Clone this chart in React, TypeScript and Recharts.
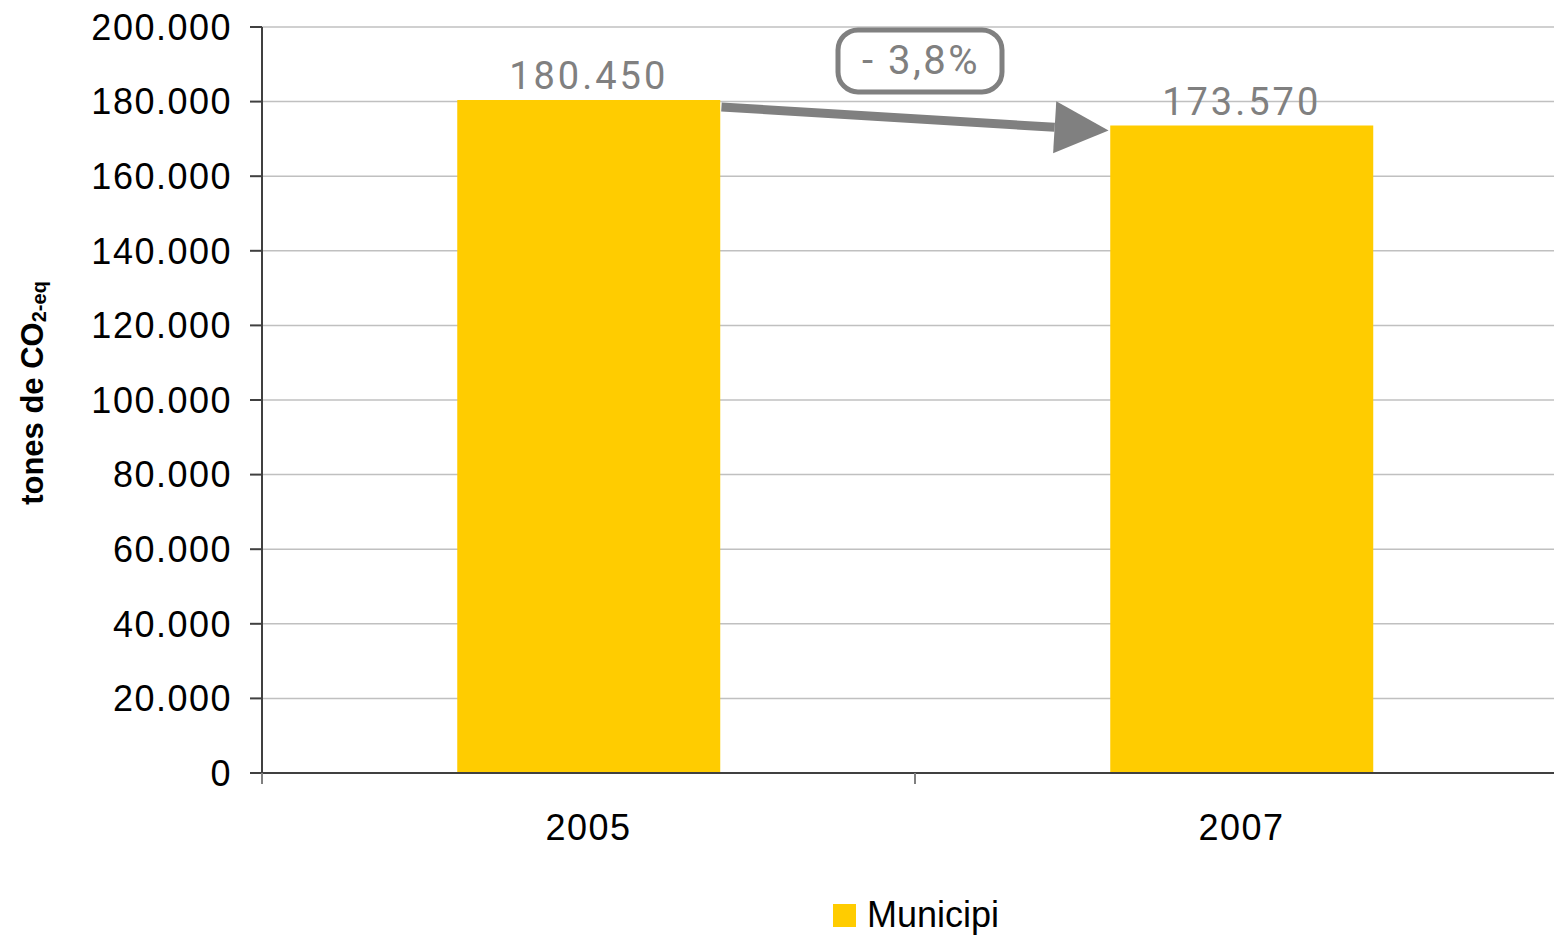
import React from 'react';
import {
  BarChart,
  Bar,
  XAxis,
  YAxis,
  CartesianGrid,
  LabelList,
  Legend,
  ReferenceLine
} from 'recharts';

const years = ['2005', '2007'];
const emissions = [180450, 173570];
const yTicks = [0, 20000, 40000, 60000, 80000, 100000, 120000, 140000, 160000, 180000, 200000];
const changeLabel = '- 3,8%';
const seriesName = 'Municipi';

const data = years.map((year, i) => ({ year, municipi: emissions[i] }));

const ARIAL = '"Liberation Sans", Arial, sans-serif';
const THIN = 'Roboto, "Open Sans", sans-serif';
const YELLOW = '#FFCC00';
const GREY = '#808080';

const fmt = (v: number) => String(v).replace(/\B(?=(\d{3})+(?!\d))/g, '.');

function YearTick(props: any) {
  const { x, y, payload } = props;
  const half = payload.offset ?? 0;
  return (
    <g>
      <line x1={x - half} y1={y} x2={x - half} y2={y + 11} stroke={GREY} strokeWidth={2} />
      <text x={x} y={y + 67} textAnchor="middle" fontSize={36} letterSpacing={1.5} fill="#000" fontFamily={ARIAL}>
        {payload.value}
      </text>
    </g>
  );
}

function YTitle() {
  return (
    <text
      x={43}
      y={393}
      transform="rotate(-90, 43, 393)"
      textAnchor="middle"
      fontFamily={ARIAL}
      fontWeight="bold"
      fontSize={31}
      fill="#000"
    >
      <tspan>tones de CO</tspan>
      <tspan fontSize={20} dy={3}>2-eq</tspan>
    </text>
  );
}

// arrow between the bar tops + rounded box with the change
function ChangeArrow(props: any) {
  const { x1, y1, x2, y2 } = props;
  const hb = ((x2 - x1) * 0.401) / 2;
  const sx = x1 + hb + 2;
  const sy = y1 + 7;
  const ex = x2 - hb - 2;
  const ey = y2 + 5;
  const dx = ex - sx;
  const dy = ey - sy;
  const len = Math.sqrt(dx * dx + dy * dy);
  const ux = dx / len;
  const uy = dy / len;
  const bx = ex - ux * 54;
  const by = ey - uy * 54;
  const nx = -uy;
  const ny = ux;
  const cx = (sx + ex) / 2 + 5;
  const cy = y1 - 39;
  return (
    <g>
      <line x1={sx} y1={sy} x2={bx} y2={by} stroke={GREY} strokeWidth={9} />
      <polygon
        points={`${ex},${ey} ${bx + nx * 26},${by + ny * 26} ${bx - nx * 26},${by - ny * 26}`}
        fill={GREY}
      />
      <rect x={cx - 82} y={cy - 31} width={164} height={62} rx={20} fill="#fff" stroke={GREY} strokeWidth={5} />
      <text x={cx + 1} y={cy + 13} textAnchor="middle" fontFamily={THIN} fontSize={40} letterSpacing={2.5} fill={GREY}>
        {changeLabel}
      </text>
    </g>
  );
}

function LegendBox() {
  return (
    <div
      style={{
        display: 'flex',
        justifyContent: 'center',
        alignItems: 'center',
        height: 40,
        paddingLeft: 264,
        fontFamily: ARIAL,
        fontSize: 36
      }}
    >
      <span style={{ width: 23, height: 23, background: YELLOW, marginRight: 11 }} />
      <span>{seriesName}</span>
    </div>
  );
}

export default function App() {
  return (
    <div style={{ position: 'absolute', left: 0, top: 0, width: 1554, height: 936, overflow: 'hidden', background: '#fff' }}>
      <BarChart
        width={1568}
        height={936}
        data={data}
        margin={{ top: 27, right: 0, left: 0, bottom: 1 }}
        barCategoryGap="29.9%"
      >
        <CartesianGrid vertical={false} stroke="#c0c0c0" strokeWidth={1.5} />
        <XAxis
          dataKey="year"
          height={122}
          axisLine={{ stroke: '#404040', strokeWidth: 2 }}
          tickLine={false}
          tickSize={0}
          tickMargin={0}
          tick={<YearTick />}
        />
        <YAxis
          width={262}
          domain={[0, 200000]}
          ticks={yTicks}
          tickFormatter={fmt}
          axisLine={{ stroke: '#404040', strokeWidth: 2 }}
          tickLine={{ stroke: '#404040', strokeWidth: 2 }}
          tickSize={12}
          tickMargin={18}
          tick={{ fontSize: 36, fill: '#000', fontFamily: ARIAL, letterSpacing: 1.5 }}
          label={<YTitle />}
        />
        <Legend verticalAlign="bottom" height={40} content={<LegendBox />} />
        <Bar dataKey="municipi" name={seriesName} fill={YELLOW} isAnimationActive={false}>
          <LabelList
            dataKey="municipi"
            position="top"
            offset={11}
            formatter={(v: any) => fmt(Number(v))}
            fill={GREY}
            fontSize={38}
            fontFamily={THIN}
            letterSpacing={3}
          />
        </Bar>
        <ReferenceLine
          segment={[
            { x: years[0], y: emissions[0] },
            { x: years[1], y: emissions[1] }
          ]}
          ifOverflow="visible"
          shape={<ChangeArrow />}
        />
      </BarChart>
    </div>
  );
}
